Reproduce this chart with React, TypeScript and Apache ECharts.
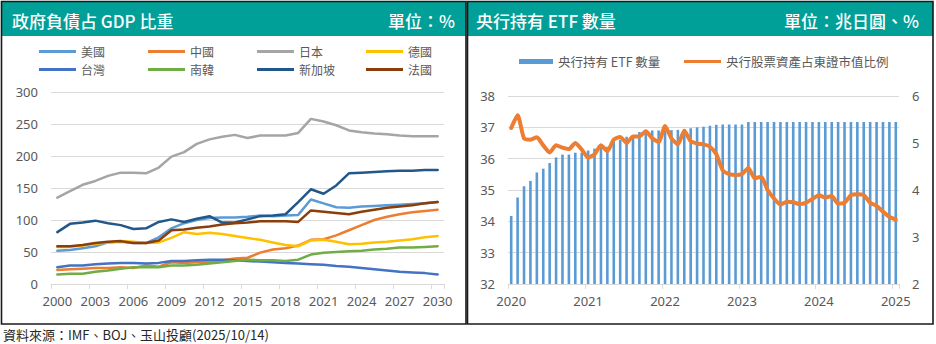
import React, { useEffect, useRef } from "react";
import * as echarts from "echarts";

// ---------- Left chart: 政府負債占 GDP 比重 ----------
const debtYears = [
  "2000", "2001", "2002", "2003", "2004", "2005", "2006", "2007", "2008", "2009",
  "2010", "2011", "2012", "2013", "2014", "2015", "2016", "2017", "2018", "2019",
  "2020", "2021", "2022", "2023", "2024", "2025", "2026", "2027", "2028", "2029", "2030",
];
const usDebt = [52, 53, 56, 59, 65, 66, 64, 64, 73, 87, 95, 100, 103, 104, 104, 105, 107, 106, 107, 108, 132, 126, 120, 119, 121, 122, 123, 124, 125, 126, 128];
const chinaDebt = [22, 23, 24, 25, 25, 26, 25, 29, 27, 34, 33, 34, 34, 37, 40, 41, 49, 54, 56, 60, 69, 70, 76, 84, 92, 100, 105, 109, 112, 114, 116];
const japanDebt = [135, 145, 155, 161, 169, 174, 174, 173, 182, 199, 206, 219, 226, 230, 233, 228, 232, 232, 232, 236, 258, 254, 248, 240, 237, 235, 234, 232, 231, 231, 231];
const germanyDebt = [58, 58, 60, 63, 65, 67, 66, 64, 65, 72, 81, 78, 80, 78, 75, 72, 69, 65, 61, 59, 68, 69, 66, 62, 63, 65, 66, 68, 70, 73, 75];
const taiwanDebt = [26, 29, 29, 31, 32, 33, 33, 32, 33, 36, 36, 37, 38, 38, 37, 36, 35, 34, 33, 32, 31, 30, 28, 27, 25, 23, 21, 19, 18, 17, 15];
const koreaDebt = [15, 16, 16, 19, 21, 24, 26, 26, 26, 29, 29, 30, 32, 34, 36, 38, 37, 37, 36, 38, 46, 49, 50, 51, 52, 54, 55, 57, 57, 58, 59];
const singaporeDebt = [81, 94, 96, 99, 95, 92, 86, 87, 97, 101, 97, 102, 106, 96, 96, 101, 106, 107, 109, 128, 148, 141, 154, 173, 174, 175, 176, 177, 177, 178, 178];
const franceDebt = [59, 59, 61, 64, 66, 67, 64, 64, 68, 84, 85, 88, 90, 93, 95, 96, 98, 98, 98, 97, 115, 113, 111, 109, 113, 116, 119, 121, 123, 126, 128];

const debtSeriesNames = ["美國", "中國", "日本", "德國", "台灣", "南韓", "新加坡", "法國"];
const debtSeriesData = [usDebt, chinaDebt, japanDebt, germanyDebt, taiwanDebt, koreaDebt, singaporeDebt, franceDebt];
const debtColors = ["#5B9BD5", "#ED7D31", "#A5A5A5", "#FFC000", "#4472C4", "#70AD47", "#22578A", "#8B3D0A"];
const debtTicks = { min: 0, max: 300, interval: 50 };

// ---------- Right chart: 央行持有 ETF 數量 ----------
const etfYears = ["2020", "2021", "2022", "2023", "2024", "2025"];
const etfMonths: string[] = [];
etfYears.forEach((y) => {
  for (let m = 1; m <= 12; m++) {
    if (y === "2025" && m > 1) break;
    etfMonths.push(`${y}-${String(m).padStart(2, "0")}`);
  }
});
const etfHoldings = [
  34.17, 34.76, 35.12, 35.29, 35.56, 35.68, 35.86, 36.04, 36.13, 36.13, 36.19, 36.19,
  36.26, 36.32, 36.34, 36.38, 36.53, 36.6, 36.7, 36.75, 36.85, 36.9, 36.9, 36.9,
  36.9, 36.91, 36.92, 36.95, 36.97, 37.0, 37.02, 37.05, 37.08, 37.09, 37.09, 37.09,
  37.09, 37.17, 37.17, 37.17, 37.17, 37.17, 37.17, 37.17, 37.17, 37.17, 37.17, 37.17,
  37.17, 37.17, 37.17, 37.17, 37.17, 37.17, 37.17, 37.17, 37.17, 37.17, 37.17, 37.17,
  37.17,
];
const stockRatio = [
  5.32, 5.59, 5.1, 5.07, 5.12, 4.95, 4.8, 4.95, 4.9, 4.87, 5.0, 4.86,
  4.69, 4.76, 4.95, 4.83, 5.07, 5.13, 5.0, 5.14, 5.14, 5.25, 5.1, 5.02,
  5.36, 5.1, 4.97, 5.26, 5.04, 4.99, 4.97, 4.92, 4.76, 4.42, 4.34, 4.32,
  4.34, 4.47, 4.25, 4.28, 4.0, 3.82, 3.69, 3.75, 3.74, 3.7, 3.73, 3.81,
  3.89, 3.84, 3.87, 3.71, 3.73, 3.89, 3.91, 3.89, 3.73, 3.66, 3.54, 3.43,
  3.37,
];
const etfLeftTicks = { min: 32, max: 38, interval: 1 };
const etfRightTicks = { min: 2, max: 6, interval: 1 };

const FONT = "'Noto Sans', 'Noto Sans CJK TC', sans-serif";
const CJK = "'Noto Sans CJK TC', 'Noto Sans', sans-serif";
const GRID_COLOR = "#D9D9D9";
const LABEL_COLOR = "#595959";
const HEADER = "#00A099";

function buildOption(): any {
  const legendCols = [39, 148, 257, 366];
  const legendRows = [45, 63];
  const legendText = { color: LABEL_COLOR, fontSize: 12, fontFamily: CJK, lineHeight: 13 };
  const legends: any[] = debtSeriesNames.map((name, i) => ({
    data: [name],
    left: legendCols[i % 4],
    top: legendRows[Math.floor(i / 4)],
    icon: "rect",
    itemWidth: 37,
    itemHeight: 3,
    itemGap: 0,
    padding: 0,
    selectedMode: false,
    textStyle: legendText,
  }));
  legends.push({
    data: ["央行持有 ETF 數量"],
    left: 519,
    top: 55,
    icon: "rect",
    itemWidth: 34,
    itemHeight: 5,
    padding: 0,
    selectedMode: false,
    textStyle: { ...legendText, fontSize: 12.5 },
  });
  legends.push({
    data: ["央行股票資產占東證市值比例"],
    left: 684,
    top: 55,
    icon: "rect",
    itemWidth: 37,
    itemHeight: 3,
    padding: 0,
    selectedMode: false,
    textStyle: { ...legendText, fontSize: 12.5 },
  });

  const debtSeries = debtSeriesNames.map((name, i) => ({
    name,
    type: "line",
    xAxisIndex: 0,
    yAxisIndex: 0,
    data: debtSeriesData[i],
    symbol: "none",
    color: debtColors[i],
    lineStyle: { width: 2.5, color: debtColors[i], join: "round", cap: "round" },
  }));

  return {
    animation: false,
    backgroundColor: "#fff",
    textStyle: { fontFamily: FONT },
    legend: legends,
    grid: [
      { left: 51, top: 92, width: 393, height: 192 },
      { left: 508, top: 96, width: 391, height: 188 },
    ],
    xAxis: [
      {
        type: "category",
        gridIndex: 0,
        data: debtYears,
        boundaryGap: true,
        axisLine: { lineStyle: { color: GRID_COLOR, width: 1 } },
        axisTick: { show: true, interval: 2, length: 5, lineStyle: { color: GRID_COLOR } },
        axisLabel: { interval: 2, color: LABEL_COLOR, fontSize: 13, margin: 10, fontFamily: FONT },
      },
      {
        type: "category",
        gridIndex: 1,
        data: etfMonths,
        boundaryGap: true,
        axisLine: { lineStyle: { color: GRID_COLOR, width: 1 } },
        axisTick: { show: true, interval: 11, length: 5, lineStyle: { color: GRID_COLOR } },
        axisLabel: {
          interval: 11,
          color: LABEL_COLOR,
          fontSize: 13,
          margin: 10,
          fontFamily: FONT,
          formatter: (v: string) => v.slice(0, 4),
        },
      },
    ],
    yAxis: [
      {
        type: "value",
        gridIndex: 0,
        ...debtTicks,
        axisLine: { show: false },
        axisTick: { show: false },
        axisLabel: { color: LABEL_COLOR, fontSize: 13, margin: 13, fontFamily: FONT },
        splitLine: { lineStyle: { color: GRID_COLOR, width: 1 } },
      },
      {
        type: "value",
        gridIndex: 1,
        ...etfLeftTicks,
        axisLine: { show: false },
        axisTick: { show: false },
        axisLabel: { color: LABEL_COLOR, fontSize: 13, margin: 13, fontFamily: FONT },
        splitLine: { lineStyle: { color: GRID_COLOR, width: 1 } },
      },
      {
        type: "value",
        gridIndex: 1,
        position: "right",
        ...etfRightTicks,
        axisLine: { show: false },
        axisTick: { show: false },
        axisLabel: { color: LABEL_COLOR, fontSize: 13, margin: 13, fontFamily: FONT },
        splitLine: { show: false },
      },
    ],
    series: [
      ...debtSeries,
      {
        name: "央行持有 ETF 數量",
        type: "bar",
        xAxisIndex: 1,
        yAxisIndex: 1,
        data: etfHoldings,
        barWidth: 2.6,
        color: "#5B9BD5",
        itemStyle: { color: "#5B9BD5" },
      },
      {
        name: "央行股票資產占東證市值比例",
        type: "line",
        xAxisIndex: 1,
        yAxisIndex: 2,
        data: stockRatio,
        symbol: "none",
        smooth: 0.2,
        color: "#ED7D31",
        lineStyle: { width: 4, color: "#ED7D31", join: "round", cap: "round" },
        z: 5,
      },
    ],
    graphic: [
      { type: "rect", z: 50, shape: { x: 2, y: 2, width: 464, height: 34 }, style: { fill: HEADER } },
      { type: "rect", z: 50, shape: { x: 468, y: 2, width: 465, height: 34 }, style: { fill: HEADER } },
      {
        type: "rect",
        z: 60,
        shape: { x: 1.5, y: 1.5, width: 464.5, height: 322.5 },
        style: { fill: "none", stroke: "#1a1a1a", lineWidth: 1.6 },
      },
      {
        type: "rect",
        z: 60,
        shape: { x: 467.5, y: 1.5, width: 465.5, height: 322.5 },
        style: { fill: "none", stroke: "#1a1a1a", lineWidth: 1.6 },
      },
      {
        type: "text",
        z: 70,
        x: 12,
        y: 20,
        style: { text: "政府負債占 GDP 比重", fill: "#fff", font: `500 17px ${CJK}`, verticalAlign: "middle", align: "left" },
      },
      {
        type: "text",
        z: 70,
        x: 455,
        y: 20,
        style: { text: "單位：%", fill: "#fff", font: `500 17px ${CJK}`, verticalAlign: "middle", align: "right" },
      },
      {
        type: "text",
        z: 70,
        x: 476,
        y: 20,
        style: { text: "央行持有 ETF 數量", fill: "#fff", font: `500 17px ${CJK}`, verticalAlign: "middle", align: "left" },
      },
      {
        type: "text",
        z: 70,
        x: 919,
        y: 20,
        style: { text: "單位：兆日圓、%", fill: "#fff", font: `500 17px ${CJK}`, verticalAlign: "middle", align: "right" },
      },
      {
        type: "text",
        z: 70,
        x: 3,
        y: 334,
        style: {
          text: "資料來源：IMF、BOJ、玉山投顧(2025/10/14)",
          fill: "#262626",
          font: `13px ${CJK}`,
          verticalAlign: "middle",
          align: "left",
        },
      },
    ],
  };
}

export default function App() {
  const ref = useRef<HTMLDivElement>(null);
  useEffect(() => {
    if (!ref.current) return;
    const chart = echarts.init(ref.current, null, { renderer: "svg" });
    chart.setOption(buildOption());
    return () => chart.dispose();
  }, []);
  return (
    <div
      ref={ref}
      style={{ position: "fixed", left: 0, top: 0, width: 936, height: 344, background: "#fff" }}
    />
  );
}
